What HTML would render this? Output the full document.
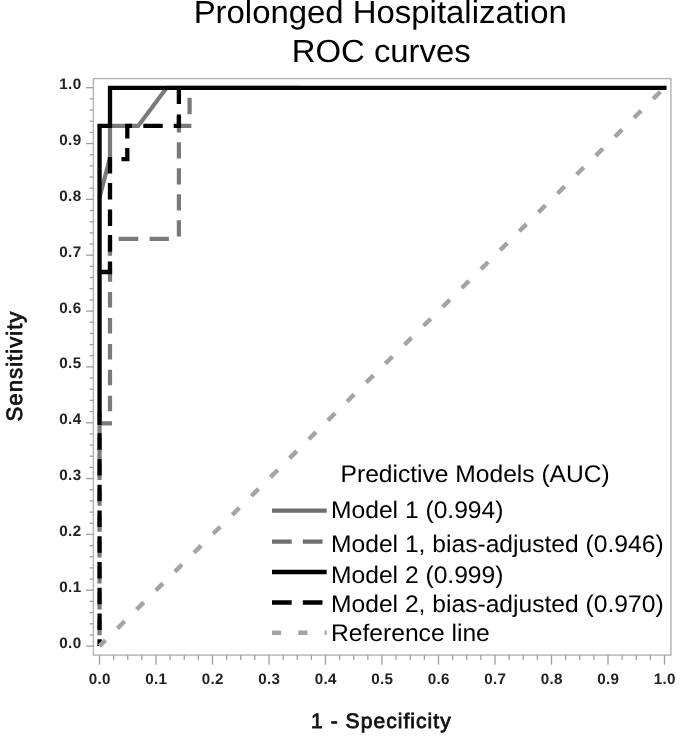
<!DOCTYPE html>
<html><head><meta charset="utf-8"><title>ROC curves</title>
<style>
html,body{margin:0;padding:0;background:#fff;}
svg{display:block;will-change:transform;}
text{font-family:"Liberation Sans",sans-serif;fill:#000;text-rendering:geometricPrecision;}
.tk{font-weight:bold;font-size:15.2px;fill:#222;letter-spacing:0.4px;}
.ax{font-size:21px;fill:#111;stroke:#111;stroke-width:0.8px;letter-spacing:1.15px;}
.lg{font-size:24px;}
.tt{font-size:32px;}
</style></head>
<body>
<svg width="685" height="741" viewBox="0 0 685 741">
<rect x="0" y="0" width="685" height="741" fill="#fff"/>
<text class="tt" transform="translate(380.2,23.3) scale(1.028,1)" text-anchor="middle">Prolonged Hospitalization</text>
<text class="tt" transform="translate(381.2,62.3) scale(1.028,1)" text-anchor="middle">ROC curves</text>
<rect x="93.4" y="78.6" width="577.5" height="576.5" fill="none" stroke="#b2b2b2" stroke-width="1.4"/>
<g stroke="#a0a0a0" stroke-width="1.3">
<line x1="99.50" y1="655.1" x2="99.50" y2="664.7"/><line x1="113.62" y1="655.1" x2="113.62" y2="660.1"/><line x1="127.75" y1="655.1" x2="127.75" y2="660.1"/><line x1="141.88" y1="655.1" x2="141.88" y2="660.1"/><line x1="156.00" y1="655.1" x2="156.00" y2="664.7"/><line x1="170.12" y1="655.1" x2="170.12" y2="660.1"/><line x1="184.25" y1="655.1" x2="184.25" y2="660.1"/><line x1="198.38" y1="655.1" x2="198.38" y2="660.1"/><line x1="212.50" y1="655.1" x2="212.50" y2="664.7"/><line x1="226.62" y1="655.1" x2="226.62" y2="660.1"/><line x1="240.75" y1="655.1" x2="240.75" y2="660.1"/><line x1="254.88" y1="655.1" x2="254.88" y2="660.1"/><line x1="269.00" y1="655.1" x2="269.00" y2="664.7"/><line x1="283.12" y1="655.1" x2="283.12" y2="660.1"/><line x1="297.25" y1="655.1" x2="297.25" y2="660.1"/><line x1="311.38" y1="655.1" x2="311.38" y2="660.1"/><line x1="325.50" y1="655.1" x2="325.50" y2="664.7"/><line x1="339.62" y1="655.1" x2="339.62" y2="660.1"/><line x1="353.75" y1="655.1" x2="353.75" y2="660.1"/><line x1="367.88" y1="655.1" x2="367.88" y2="660.1"/><line x1="382.00" y1="655.1" x2="382.00" y2="664.7"/><line x1="396.12" y1="655.1" x2="396.12" y2="660.1"/><line x1="410.25" y1="655.1" x2="410.25" y2="660.1"/><line x1="424.38" y1="655.1" x2="424.38" y2="660.1"/><line x1="438.50" y1="655.1" x2="438.50" y2="664.7"/><line x1="452.62" y1="655.1" x2="452.62" y2="660.1"/><line x1="466.75" y1="655.1" x2="466.75" y2="660.1"/><line x1="480.88" y1="655.1" x2="480.88" y2="660.1"/><line x1="495.00" y1="655.1" x2="495.00" y2="664.7"/><line x1="509.12" y1="655.1" x2="509.12" y2="660.1"/><line x1="523.25" y1="655.1" x2="523.25" y2="660.1"/><line x1="537.38" y1="655.1" x2="537.38" y2="660.1"/><line x1="551.50" y1="655.1" x2="551.50" y2="664.7"/><line x1="565.62" y1="655.1" x2="565.62" y2="660.1"/><line x1="579.75" y1="655.1" x2="579.75" y2="660.1"/><line x1="593.88" y1="655.1" x2="593.88" y2="660.1"/><line x1="608.00" y1="655.1" x2="608.00" y2="664.7"/><line x1="622.12" y1="655.1" x2="622.12" y2="660.1"/><line x1="636.25" y1="655.1" x2="636.25" y2="660.1"/><line x1="650.38" y1="655.1" x2="650.38" y2="660.1"/><line x1="664.50" y1="655.1" x2="664.50" y2="664.7"/>
<line x1="93.4" y1="646.10" x2="86.0" y2="646.10"/><line x1="93.4" y1="634.93" x2="89.6" y2="634.93"/><line x1="93.4" y1="623.76" x2="89.6" y2="623.76"/><line x1="93.4" y1="612.60" x2="89.6" y2="612.60"/><line x1="93.4" y1="601.43" x2="89.6" y2="601.43"/><line x1="93.4" y1="590.26" x2="86.0" y2="590.26"/><line x1="93.4" y1="579.09" x2="89.6" y2="579.09"/><line x1="93.4" y1="567.92" x2="89.6" y2="567.92"/><line x1="93.4" y1="556.76" x2="89.6" y2="556.76"/><line x1="93.4" y1="545.59" x2="89.6" y2="545.59"/><line x1="93.4" y1="534.42" x2="86.0" y2="534.42"/><line x1="93.4" y1="523.25" x2="89.6" y2="523.25"/><line x1="93.4" y1="512.08" x2="89.6" y2="512.08"/><line x1="93.4" y1="500.92" x2="89.6" y2="500.92"/><line x1="93.4" y1="489.75" x2="89.6" y2="489.75"/><line x1="93.4" y1="478.58" x2="86.0" y2="478.58"/><line x1="93.4" y1="467.41" x2="89.6" y2="467.41"/><line x1="93.4" y1="456.24" x2="89.6" y2="456.24"/><line x1="93.4" y1="445.08" x2="89.6" y2="445.08"/><line x1="93.4" y1="433.91" x2="89.6" y2="433.91"/><line x1="93.4" y1="422.74" x2="86.0" y2="422.74"/><line x1="93.4" y1="411.57" x2="89.6" y2="411.57"/><line x1="93.4" y1="400.40" x2="89.6" y2="400.40"/><line x1="93.4" y1="389.24" x2="89.6" y2="389.24"/><line x1="93.4" y1="378.07" x2="89.6" y2="378.07"/><line x1="93.4" y1="366.90" x2="86.0" y2="366.90"/><line x1="93.4" y1="355.73" x2="89.6" y2="355.73"/><line x1="93.4" y1="344.56" x2="89.6" y2="344.56"/><line x1="93.4" y1="333.40" x2="89.6" y2="333.40"/><line x1="93.4" y1="322.23" x2="89.6" y2="322.23"/><line x1="93.4" y1="311.06" x2="86.0" y2="311.06"/><line x1="93.4" y1="299.89" x2="89.6" y2="299.89"/><line x1="93.4" y1="288.72" x2="89.6" y2="288.72"/><line x1="93.4" y1="277.56" x2="89.6" y2="277.56"/><line x1="93.4" y1="266.39" x2="89.6" y2="266.39"/><line x1="93.4" y1="255.22" x2="86.0" y2="255.22"/><line x1="93.4" y1="244.05" x2="89.6" y2="244.05"/><line x1="93.4" y1="232.88" x2="89.6" y2="232.88"/><line x1="93.4" y1="221.72" x2="89.6" y2="221.72"/><line x1="93.4" y1="210.55" x2="89.6" y2="210.55"/><line x1="93.4" y1="199.38" x2="86.0" y2="199.38"/><line x1="93.4" y1="188.21" x2="89.6" y2="188.21"/><line x1="93.4" y1="177.04" x2="89.6" y2="177.04"/><line x1="93.4" y1="165.88" x2="89.6" y2="165.88"/><line x1="93.4" y1="154.71" x2="89.6" y2="154.71"/><line x1="93.4" y1="143.54" x2="86.0" y2="143.54"/><line x1="93.4" y1="132.37" x2="89.6" y2="132.37"/><line x1="93.4" y1="121.20" x2="89.6" y2="121.20"/><line x1="93.4" y1="110.04" x2="89.6" y2="110.04"/><line x1="93.4" y1="98.87" x2="89.6" y2="98.87"/><line x1="93.4" y1="87.70" x2="86.0" y2="87.70"/>
</g>
<text class="tk" x="99.8" y="683.7" text-anchor="middle">0.0</text><text class="tk" x="156.3" y="683.7" text-anchor="middle">0.1</text><text class="tk" x="212.8" y="683.7" text-anchor="middle">0.2</text><text class="tk" x="269.3" y="683.7" text-anchor="middle">0.3</text><text class="tk" x="325.8" y="683.7" text-anchor="middle">0.4</text><text class="tk" x="382.3" y="683.7" text-anchor="middle">0.5</text><text class="tk" x="438.8" y="683.7" text-anchor="middle">0.6</text><text class="tk" x="495.3" y="683.7" text-anchor="middle">0.7</text><text class="tk" x="551.8" y="683.7" text-anchor="middle">0.8</text><text class="tk" x="608.3" y="683.7" text-anchor="middle">0.9</text><text class="tk" x="664.8" y="683.7" text-anchor="middle">1.0</text>
<text class="tk" x="81.6" y="647.5" text-anchor="end">0.0</text><text class="tk" x="81.6" y="591.7" text-anchor="end">0.1</text><text class="tk" x="81.6" y="535.8" text-anchor="end">0.2</text><text class="tk" x="81.6" y="480.0" text-anchor="end">0.3</text><text class="tk" x="81.6" y="424.1" text-anchor="end">0.4</text><text class="tk" x="81.6" y="368.3" text-anchor="end">0.5</text><text class="tk" x="81.6" y="312.5" text-anchor="end">0.6</text><text class="tk" x="81.6" y="256.6" text-anchor="end">0.7</text><text class="tk" x="81.6" y="200.8" text-anchor="end">0.8</text><text class="tk" x="81.6" y="144.9" text-anchor="end">0.9</text><text class="tk" x="81.6" y="89.1" text-anchor="end">1.0</text>
<text class="ax" x="381.4" y="727.6" text-anchor="middle" style="letter-spacing:1.05px">1 - Specificity</text>
<text class="ax" transform="translate(21.8,366.0) rotate(-90)" text-anchor="middle" style="font-size:22.2px;letter-spacing:1.0px">Sensitivity</text>
<polyline fill="none" stroke="#7a7a7a" stroke-width="4.2" stroke-linejoin="miter" points="99.55,197.5 110.0,157.7 110.0,125.9 138.2,125.9 166.7,87.8 300,87.8"/>
<path fill="none" stroke="#7a7a7a" stroke-width="4.2" d="M99.55,618.8V635.3 M99.55,592.9V609.4 M99.55,567.0V583.5 M99.55,541.1V557.6 M99.55,515.2V531.7 M99.55,489.3V505.8 M99.55,463.4V479.9 M99.55,437.5V454.0 M99.55,411.6V428.1 M99.55,424V434 M99.55,449.5V459.6 M99.55,423.4H112.0 M110.0,240.3V255.8 M110.0,266.2V281.7 M110.0,292.1V307.6 M110.0,318.0V333.5 M110.0,343.9V359.4 M110.0,369.8V385.3 M110.0,395.7V411.2 M118.6,238.8H138.3 M149.6,238.8H168.9 M178.9,116.2V132.4 M178.9,142.2V158.4 M178.9,168.2V184.4 M178.9,194.2V210.4 M178.9,220.2V236.4 M178.9,125.9H191.4 M189.6,97.8V114.2"/>
<path fill="none" stroke="#000" stroke-width="4.3" stroke-linejoin="miter" d="M99.55,433.2V449.7 M99.55,458.9V475.4 M99.55,484.7V501.2 M99.55,510.4V527.0 M99.55,536.2V552.7 M99.55,562.0V578.5 M99.55,587.7V604.2 M99.55,613.5V630.0 M99.55,639.2V646.1 M99.55,272.0H110.0V261.4 M110.0,183.0V199.6 M110.0,209.4V226.0 M110.0,235.1V251.7 M110.0,157.0V173.4 M121.5,159.2H127.3V148.0 M127.3,138.4V125.9H132.0 M143.3,125.9H162.7 M173.7,125.9H178.9V114.4 M178.9,103.9V87.8"/>
<polyline fill="none" stroke="#000" stroke-width="4.3" stroke-linejoin="miter" points="99.55,425.0 99.55,125.9 110.0,125.9 110.0,87.8 666.6,87.8"/>
<line x1="99.5" y1="646.1" x2="664.5" y2="87.7" stroke="#a4a4a4" stroke-width="4.4" stroke-dasharray="10.1 16.8" stroke-dashoffset="1.65"/>
<text class="lg" transform="translate(340.6,481.7) scale(1.024,1)">Predictive Models (AUC)</text>
<text class="lg" transform="translate(331.0,517.7) scale(1.026,1)">Model 1 (0.994)</text>
<text class="lg" transform="translate(331.0,551.6) scale(1.026,1)">Model 1, bias-adjusted (0.946)</text>
<text class="lg" transform="translate(331.0,582.8) scale(1.026,1)">Model 2 (0.999)</text>
<text class="lg" transform="translate(331.0,612.2) scale(1.026,1)">Model 2, bias-adjusted (0.970)</text>
<text class="lg" transform="translate(331.0,640.7) scale(1.026,1)">Reference line</text>
<line x1="272" y1="510.7" x2="326.7" y2="510.7" stroke="#6e6e6e" stroke-width="4.2"/>
<line x1="272" y1="541.6" x2="326.7" y2="541.6" stroke="#6e6e6e" stroke-width="4.2" stroke-dasharray="19.7 11.1"/>
<line x1="272" y1="572" x2="326.7" y2="572" stroke="#000" stroke-width="4.6"/>
<line x1="272" y1="602.5" x2="326.7" y2="602.5" stroke="#000" stroke-width="4.6" stroke-dasharray="19.7 11.1"/>
<line x1="272" y1="632.8" x2="326.7" y2="632.8" stroke="#a4a4a4" stroke-width="4.4" stroke-dasharray="9.1 17.2"/>
</svg>
</body></html>
